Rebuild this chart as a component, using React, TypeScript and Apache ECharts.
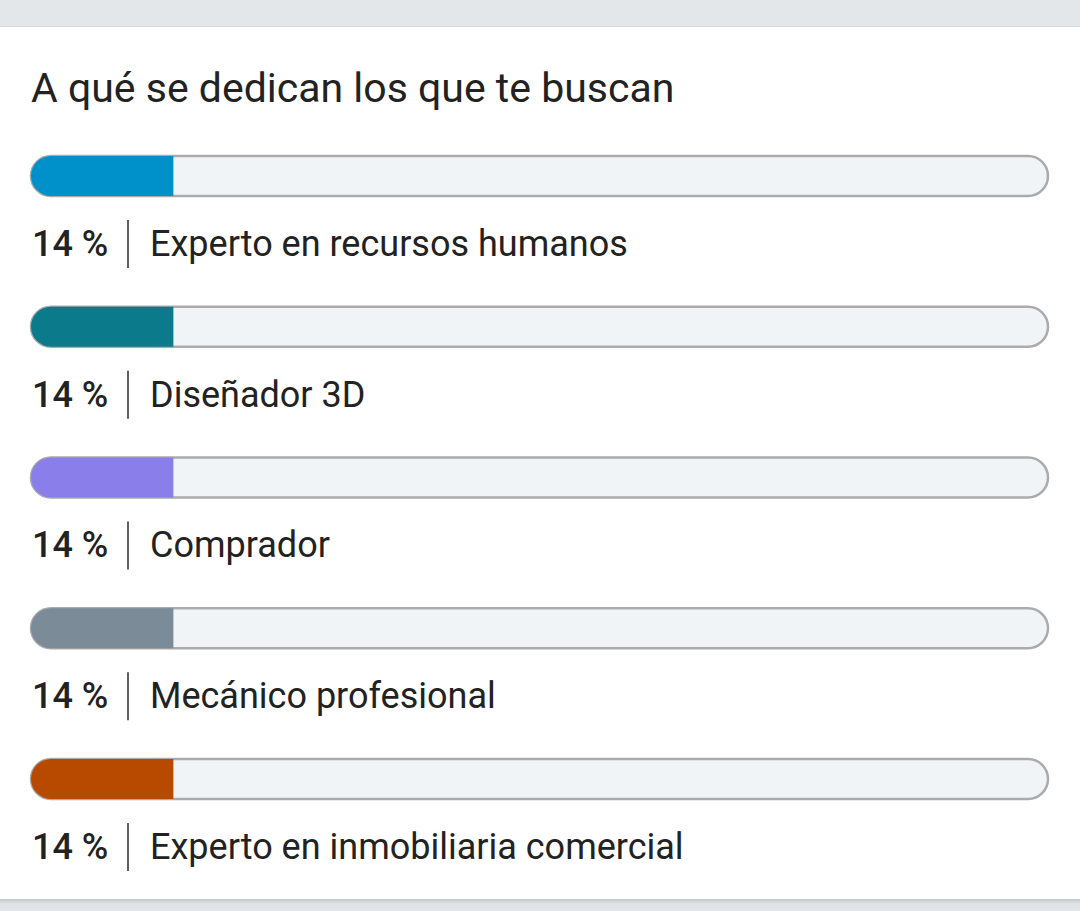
import React, { useEffect, useRef } from "react";
import * as echarts from "echarts";

const titleText = "A qué se dedican los que te buscan";
const categories = [
  "Experto en recursos humanos",
  "Diseñador 3D",
  "Comprador",
  "Mecánico profesional",
  "Experto en inmobiliaria comercial",
];
const values = [14, 14, 14, 14, 14];
const colors = ["#0091ca", "#0b7a8a", "#8a7fea", "#7b8c98", "#b84a00"];

export default function App() {
  const ref = useRef<HTMLDivElement>(null);
  useEffect(() => {
    document.body.style.margin = "0";
    const chart = echarts.init(ref.current!, null, { renderer: "svg" });
    const font = "Roboto";
    chart.setOption({
      animation: false,
      backgroundColor: "#ffffff",
      textStyle: { fontFamily: font },
      title: {
        text: titleText,
        left: 31,
        top: 67,
        padding: 0,
        textStyle: { fontSize: 41, fontWeight: "normal", color: "#222222", fontFamily: font },
      },
      graphic: [
        { type: "rect", shape: { x: 0, y: 0, width: 1080, height: 26 }, style: { fill: "#e4e7ea" }, silent: true },
        { type: "rect", shape: { x: 0, y: 26, width: 1080, height: 1 }, style: { fill: "#d5d8dc" }, silent: true },
        {
          type: "rect",
          shape: { x: 0, y: 899, width: 1080, height: 12 },
          style: {
            fill: new echarts.graphic.LinearGradient(0, 0, 0, 1, [
              { offset: 0, color: "#c4c7ca" },
              { offset: 0.4, color: "#dfe2e5" },
              { offset: 1, color: "#e4e7ea" },
            ]),
          },
          silent: true,
        },
      ],
      grid: { left: 31, right: 32, top: 100.6, height: 753.75, containLabel: false },
      xAxis: { type: "value", min: 0, max: 100, show: false },
      yAxis: {
        type: "category",
        data: categories,
        inverse: true,
        show: false,
      },
      series: [
        {
          type: "bar",
          barWidth: 40,
          showBackground: true,
          backgroundStyle: {
            color: "#f1f4f7",
            borderColor: "#ababab",
            borderWidth: 2.5,
            borderRadius: 20,
          },
          data: values.map((v, i) => ({
            value: v,
            itemStyle: { color: colors[i], borderRadius: [20, 0, 0, 20] },
          })),
          label: {
            show: true,
            position: [1, 88],
            align: "left",
            verticalAlign: "middle",
            formatter: (p: any) => `{p|${p.value} %}{sep|}{g|}{n|${p.name}}`,
            rich: {
              p: { fontSize: 36, fontWeight: 500, color: "#222222", width: 95, fontFamily: font },
              sep: { width: 2, height: 48, backgroundColor: "#5f5f5f" },
              g: { width: 21 },
              n: { fontSize: 36, fontWeight: "normal", color: "#222222", fontFamily: font },
            },
          },
        },
      ],
    });
    return () => chart.dispose();
  }, []);
  return <div ref={ref} style={{ width: 1080, height: 911 }} />;
}
